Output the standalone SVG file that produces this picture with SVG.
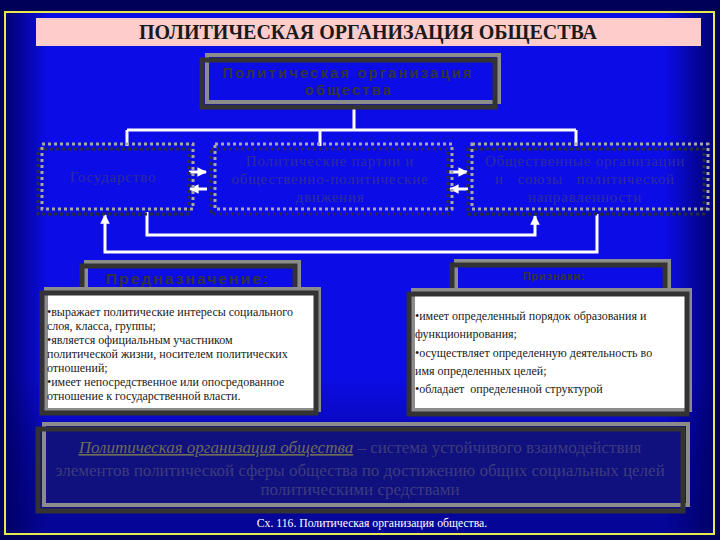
<svg xmlns="http://www.w3.org/2000/svg" width="720" height="540" viewBox="0 0 720 540">
<defs>
<linearGradient id="hg" x1="0" y1="0" x2="1" y2="0">
<stop offset="0" stop-color="#00006e"/>
<stop offset="0.06" stop-color="#0c0ce6"/>
<stop offset="0.93" stop-color="#0c0ce6"/>
<stop offset="1" stop-color="#000070"/>
</linearGradient>
<linearGradient id="vg" x1="0" y1="0" x2="0" y2="1">
<stop offset="0" stop-color="#000060" stop-opacity="0"/>
<stop offset="0.7" stop-color="#000060" stop-opacity="0"/>
<stop offset="0.85" stop-color="#000060" stop-opacity="0.45"/>
<stop offset="1" stop-color="#000060" stop-opacity="0.6"/>
</linearGradient>
<marker id="ah" viewBox="0 0 10 10" refX="9" refY="5" markerWidth="3.2" markerHeight="3.2" orient="auto" markerUnits="strokeWidth">
<path d="M0,0 L10,5 L0,10 Z" fill="#ffffff"/>
</marker>
</defs>
<style>
.gray{fill:none;stroke:#8c8c8c;stroke-width:4}
.dark{fill:none;stroke:#333333;stroke-width:5}
.dg{fill:none;stroke:#a8a8a8;stroke-width:3;stroke-dasharray:3 3}
.dd{fill:none;stroke:#2a2a40;stroke-width:3;stroke-dasharray:3 3}
.conn{fill:none;stroke:#ffffff;stroke-width:3}
.bt{font-family:"Liberation Serif",serif;font-size:15px;fill:#2e2e9c;text-anchor:middle;letter-spacing:0.8px}
.lt{font-family:"Liberation Serif",serif;font-size:12px;fill:#1a1a1a}
.ht{font-family:"Liberation Sans",sans-serif;font-weight:bold;fill:#353535;text-anchor:middle}
.dt{font-family:"Liberation Serif",serif;font-size:17px;fill:#3c3c7c;text-anchor:middle}
</style>
<rect width="720" height="540" fill="#000058"/>
<rect x="5" y="12" width="710" height="522" fill="url(#hg)"/>
<rect x="5" y="12" width="710" height="522" fill="url(#vg)"/>
<rect x="5" y="12" width="709" height="522" fill="none" stroke="#e8e84c" stroke-width="2"/>

<g id="title">
<rect x="36" y="18" width="665" height="28" fill="#ffcccc"/>
<text x="368" y="39" font-family="Liberation Serif,serif" font-weight="bold" font-size="20" fill="#1a1a1a" text-anchor="middle">ПОЛИТИЧЕСКАЯ ОРГАНИЗАЦИЯ ОБЩЕСТВА</text>
</g>

<g id="connectors">
<path class="conn" d="M354,109 V130 M127,130 H576 M127,130 V146 M320,130 V146 M576,130 V146"/>
<path class="conn" d="M147,212 V235 H535 V216" marker-end="url(#ah)"/>
<path class="conn" d="M597,214 V252 H105 V215" marker-end="url(#ah)"/>
<path class="conn" d="M189,172 H206" marker-end="url(#ah)"/>
<path class="conn" d="M207,189 H190" marker-end="url(#ah)"/>
<path class="conn" d="M449,172 H467" marker-end="url(#ah)"/>
<path class="conn" d="M468,189 H450" marker-end="url(#ah)"/>
</g>

<g id="top-node">
<rect class="gray" x="207" y="55" width="292" height="47"/>
<rect class="dark" x="202" y="60" width="293" height="47"/>
<text class="ht" x="348" y="78" font-size="14.5" letter-spacing="2.3">Политическая организация</text>
<text class="ht" x="349" y="95" font-size="14.5" letter-spacing="2.3">общества</text>
</g>

<g id="node-state">
<rect class="dd" x="38" y="149" width="151" height="65"/>
<rect class="dg" x="42" y="144" width="151" height="65"/>
<text class="bt" x="113" y="182">Государство</text>
</g>

<g id="node-parties">
<rect class="dd" x="211" y="149" width="237" height="65"/>
<rect class="dg" x="215" y="144" width="237" height="65"/>
<text class="bt" x="330" y="166">Политические партии и</text>
<text class="bt" x="330" y="184">общественно-политические</text>
<text class="bt" x="330" y="202">движения</text>
</g>

<g id="node-orgs">
<rect class="dd" x="468" y="149" width="236" height="65"/>
<rect class="dg" x="472" y="144" width="236" height="65"/>
<text class="bt" x="585" y="166">Общественные организации</text>
<text class="bt" x="585" y="184" xml:space="preserve">и   союзы   политической</text>
<text class="bt" x="585" y="202">направленности</text>
</g>

<g id="purpose">
<rect class="gray" x="86" y="262" width="213" height="34"/>
<rect class="dark" x="82" y="266" width="213" height="34"/>
<text class="ht" x="188" y="284" font-size="15.5" letter-spacing="2.1">Предназначение:</text>
<rect x="42" y="292" width="275" height="121" fill="#ffffff"/>
<rect class="gray" x="46" y="289" width="273" height="121"/>
<rect class="dark" x="42" y="293" width="274" height="120"/>
<text class="lt" x="47" y="316">•выражает политические интересы социального</text>
<text class="lt" x="47" y="330">слоя, класса, группы;</text>
<text class="lt" x="47" y="344">•является официальным участником</text>
<text class="lt" x="47" y="358">политической жизни, носителем политических</text>
<text class="lt" x="47" y="372">отношений;</text>
<text class="lt" x="47" y="386">•имеет непосредственное или опосредованное</text>
<text class="lt" x="47" y="400">отношение к государственной власти.</text>
</g>

<g id="features">
<rect class="gray" x="456" y="261" width="213" height="34"/>
<rect class="dark" x="452" y="265" width="213" height="34"/>
<text class="ht" x="554" y="280" font-size="11" letter-spacing="0.8">Признаки:</text>
<rect x="409" y="293" width="279" height="121" fill="#ffffff"/>
<rect class="gray" x="413" y="290" width="277" height="120"/>
<rect class="dark" x="409" y="294" width="278" height="120"/>
<text class="lt" x="415" y="320">•имеет определенный порядок образования и</text>
<text class="lt" x="415" y="338">функционирования;</text>
<text class="lt" x="415" y="357">•осуществляет определенную деятельность во</text>
<text class="lt" x="415" y="375">имя определенных целей;</text>
<text class="lt" x="415" y="393" xml:space="preserve">•обладает  определенной структурой</text>
</g>

<g id="definition">
<rect x="38" y="429" width="646" height="82" fill="#10107e"/>
<rect class="gray" x="44" y="424" width="644" height="81"/>
<rect class="dark" x="38" y="429" width="645" height="82"/>
<text class="dt" x="360" y="453"><tspan font-style="italic" text-decoration="underline" fill="#6c6c58">Политическая организация общества</tspan> – система устойчивого взаимодействия</text>
<text class="dt" x="360" y="476">элементов политической сферы общества по достижению общих социальных целей</text>
<text class="dt" x="360" y="495">политическими средствами</text>
</g>

<text x="372" y="527" font-family="Liberation Serif,serif" font-size="11.7" fill="#ffffff" text-anchor="middle">Сх. 116. Политическая организация общества.</text>
</svg>
